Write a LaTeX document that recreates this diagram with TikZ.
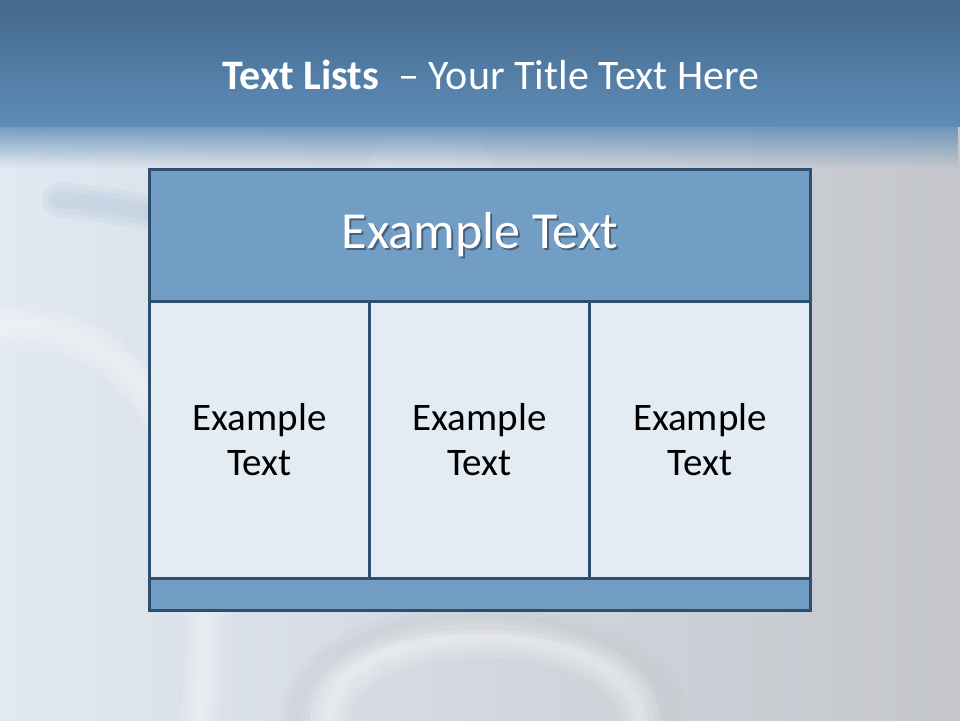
\documentclass[tikz,border=0pt]{standalone}
\usepackage{fontspec}
\setmainfont{Carlito}
\usetikzlibrary{positioning,fadings}
\definecolor{bandtop}{RGB}{69,104,140}
\definecolor{bandbot}{RGB}{93,140,183}
\definecolor{bgleft}{RGB}{226,233,242}
\definecolor{bgright}{RGB}{196,198,203}
\definecolor{boxline}{RGB}{47,79,112}
\definecolor{headfill}{RGB}{114,157,197}
\definecolor{cellfill}{RGB}{227,235,243}
\colorlet{shadowcol}{headfill!62!black}
\newcommand{\shadowed}[1]{\makebox[0pt][l]{\hspace{2pt}\raisebox{-2pt}{\textcolor{shadowcol}{#1}}}#1}
\tikzset{
  panel/.style={draw=boxline, line width=3pt, inner sep=0pt, anchor=north west},
  headbox/.style={panel, fill=headfill},
  cellbox/.style={panel, fill=cellfill, minimum width=220pt, minimum height=277pt},
  celltext/.style={font=\fontsize{39}{45}\selectfont, text=black, align=center},
  softring/.style={opacity=0.12, line cap=round},
}
\begin{document}
\begin{tikzpicture}[x=1pt,y=-1pt]
\useasboundingbox (0,0) rectangle (960,720);
% background
\shade[left color=bgleft, right color=bgright] (0,0) rectangle (960,720);
\begin{scope}
  \clip (0,120) rectangle (960,720);
  \foreach \w in {40,30,20,10}
    \draw[white, softring, line width=\w pt] (-40,330) .. controls (120,300) and (230,420) .. (200,720);
  \foreach \w in {36,26,16}
    \draw[bandbot, softring, line width=\w pt, opacity=0.06] (60,200) .. controls (180,210) and (300,250) .. (360,290);
  \foreach \w in {40,28,16,8}
    \draw[white, softring, line width=\w pt] (330,720) .. controls (330,610) and (630,610) .. (640,720);
  \foreach \w in {30,20,10}
    \draw[bgright, softring, line width=\w pt] (295,720) .. controls (295,585) and (665,585) .. (675,720);
  \fill[white, opacity=0.15] (430,185) circle[radius=65];
\end{scope}
\fill[bandbot, path fading=south] (0,118) rectangle (960,168);
\shade[top color=bandtop, bottom color=bandbot] (0,0) rectangle (960,126);
% title
\node[text=white, font=\fontsize{42}{50}\selectfont] (title) at (491,75)
  {\textbf{Text Lists}\ \ – Your Title Text Here};
% table
\node[headbox, minimum width=661pt, minimum height=132pt] (head) at (148,168) {};
\node[text=white, font=\fontsize{52}{60}\selectfont] (headtext) at (head.center) {\shadowed{Example Text}};
\node[cellbox] (c1) at (148,300) {};
\node[cellbox] (c2) at (368,300) {};
\node[cellbox, minimum width=221pt] (c3) at (588,300) {};
\node[headbox, minimum width=661pt, minimum height=32pt] (foot) at (148,577) {};
\node[celltext] (t1) at (c1.center) {Example\\Text};
\node[celltext] (t2) at (c2.center) {Example\\Text};
\node[celltext] (t3) at (c3.center) {Example\\Text};
\end{tikzpicture}
\end{document}
